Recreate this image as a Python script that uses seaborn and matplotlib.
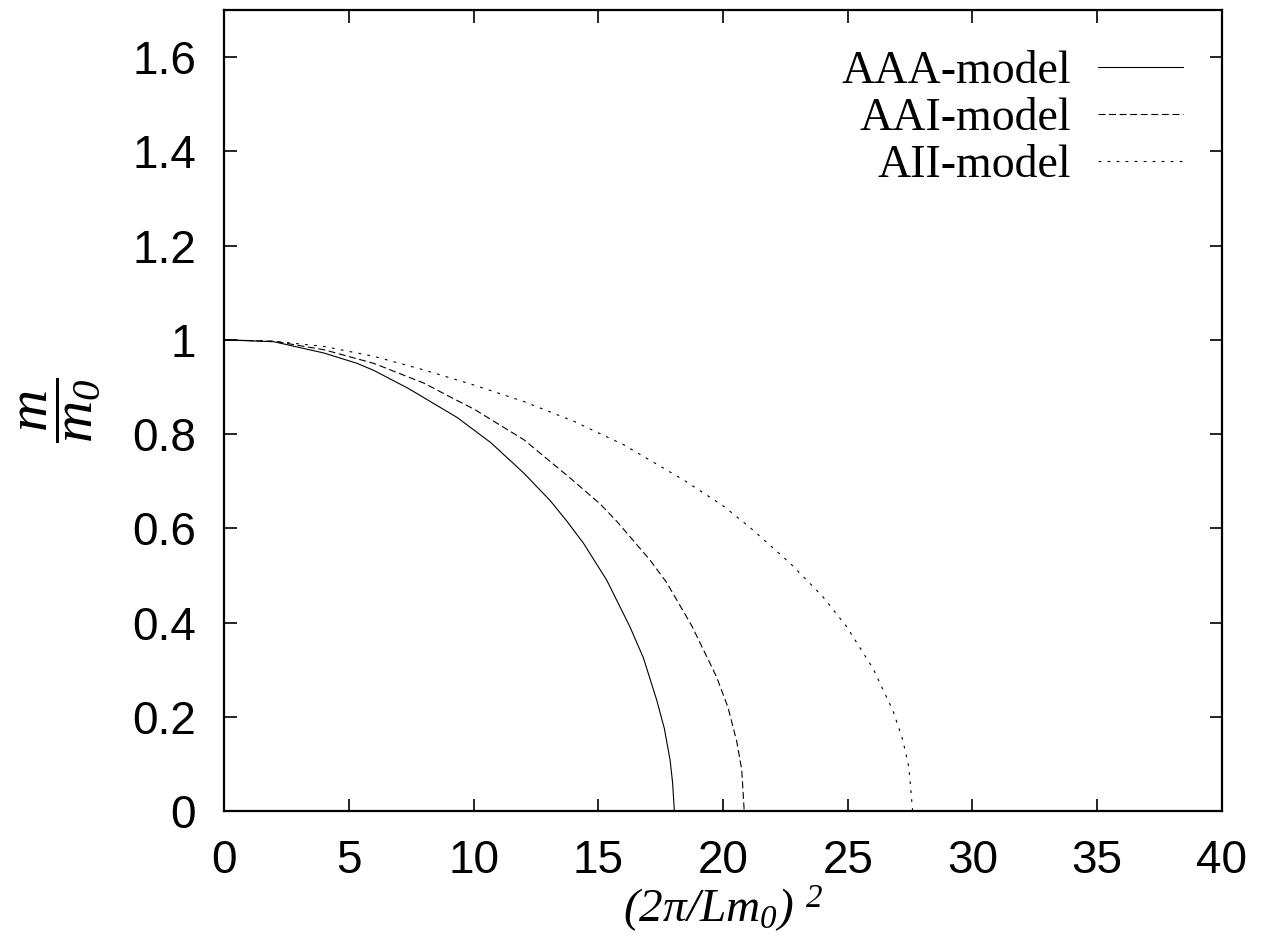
import matplotlib
matplotlib.use("Agg")
import matplotlib.pyplot as plt
import pandas as pd
import seaborn as sns
from matplotlib.ticker import MultipleLocator, FormatStrFormatter

# values
aaa_x = [0, 2.00, 4.01, 5.34, 6.01, 7.35, 8.02, 9.35, 10.69, 12.02, 13.07, 13.73, 14.40,
         15.34, 16.27, 16.81, 17.34, 17.65, 17.88, 17.98, 18.05]
aaa_y = [1, 0.996, 0.972, 0.950, 0.935, 0.898, 0.877, 0.835, 0.782, 0.717, 0.659, 0.616, 0.569,
         0.490, 0.391, 0.325, 0.236, 0.175, 0.108, 0.060, 0]

aai_x = [0, 2.00, 4.01, 6.01, 8.02, 9.06, 10.02, 12.02, 13.89, 15.07, 15.74, 17.07, 17.74,
         18.75, 19.74, 20.20, 20.55, 20.75, 20.85]
aai_y = [1, 0.997, 0.979, 0.950, 0.908, 0.879, 0.853, 0.788, 0.706, 0.652, 0.615, 0.533, 0.485,
         0.393, 0.285, 0.220, 0.148, 0.088, 0]

aii_x = [0, 2.00, 4.01, 6.01, 8.02, 10.02, 12.02, 14.03, 16.03, 18.41, 20.00, 21.08, 22.69,
         24.00, 24.96, 26.02, 26.82, 27.20, 27.45, 27.60]
aii_y = [1, 0.997, 0.986, 0.965, 0.936, 0.904, 0.869, 0.827, 0.777, 0.703, 0.648, 0.602, 0.526,
         0.455, 0.391, 0.302, 0.212, 0.152, 0.093, 0]

labels = ["AAA-model", "AAI-model", "AII-model"]

sns.set_theme(style="ticks")
plt.rcParams["font.family"] = ["Liberation Sans", "DejaVu Sans"]
plt.rcParams["text.color"] = "black"
plt.rcParams["axes.labelcolor"] = "black"
plt.rcParams["mathtext.fontset"] = "custom"
plt.rcParams["mathtext.it"] = "Liberation Serif:italic"
plt.rcParams["mathtext.rm"] = "Liberation Serif:italic"
plt.rcParams["lines.scale_dashes"] = False

fig = plt.figure(figsize=(12.62, 9.36), dpi=100)
ax = fig.add_axes([0.1775, 0.1335, 0.9683 - 0.1775, 0.9893 - 0.1335])

curves = [(aaa_x, aaa_y), (aai_x, aai_y), (aii_x, aii_y)]
styles = ["-", (0, (5, 2.6)), (0, (2, 4.5))]
for (xs, ys), lab, ls in zip(curves, labels, styles):
    df = pd.DataFrame({"x": xs, "y": ys})
    sns.lineplot(data=df, x="x", y="y", ax=ax, color="black", linewidth=0.8,
                 estimator=None, sort=False, label=lab, linestyle=ls)

ax.set_xlim(0, 40)
ax.set_ylim(0, 1.7)
ax.xaxis.set_major_locator(MultipleLocator(5))
ax.yaxis.set_major_locator(MultipleLocator(0.2))
ax.xaxis.set_major_formatter(FormatStrFormatter("%g"))
ax.yaxis.set_major_formatter(FormatStrFormatter("%g"))
ax.tick_params(direction="in", length=9, width=1.2, labelsize=33, pad=20,
               top=True, right=True, colors="black")
for s in ax.spines.values():
    s.set_linewidth(1.6)
    s.set_color("black")

ax.set_xlabel(r"(2π/L$m_0$) $^2$", fontsize=34, labelpad=0,
              family="Liberation Serif", style="italic")
ax.set_ylabel(r"$\dfrac{m}{m_0}$", fontsize=42, labelpad=22)

leg = ax.legend(loc="upper right", frameon=False, markerfirst=False,
                prop={"family": "Liberation Serif", "size": 33},
                handlelength=1.85, handletextpad=0.6, labelspacing=0.1,
                borderaxespad=0.3, bbox_to_anchor=(0.993, 0.99))

fig.savefig("out.png", dpi=100, facecolor="white")
